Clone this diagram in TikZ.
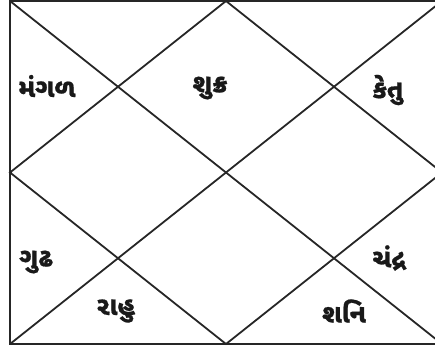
\documentclass[tikz,border=0pt]{standalone}
\usepackage{fontspec}
\newfontfamily\guj[Script=Gujarati,FakeBold=0.8]{Noto Sans Gujarati UI}
\begin{document}
\begin{tikzpicture}[x=1pt,y=-1pt,
  frame/.style={line width=2.6pt,draw=black!85},
  chartline/.style={line width=1.8pt,draw=black!85},
  planet/.style={font=\guj\bfseries\fontsize{26}{28}\selectfont,inner sep=0pt,text=black!90}]
\useasboundingbox (0,0) rectangle (435,349);
\clip (0,0) rectangle (435,349);
\coordinate (tl) at (10,1);
\coordinate (tr) at (442,1);
\coordinate (bl) at (10,344);
\coordinate (br) at (442,344);
\coordinate (tm) at (226,1);
\coordinate (bm) at (226,344);
\coordinate (lm) at (10,172.5);
\coordinate (rm) at (442,172.5);
\draw[chartline] (tl) -- (br);
\draw[chartline] (tr) -- (bl);
\draw[chartline] (tm) -- (lm) -- (bm) -- (rm) -- cycle;
\draw[frame] (tl) rectangle (br);
\node[planet] (mangal) at (47,86) {મંગળ};
\node[planet] (shukra) at (210,88) {શુક્ર};
\node[planet] (ketu) at (388,90) {કેતુ};
\node[planet] (guru) at (36,262) {ગુઢ};
\node[planet] (chandra) at (389,258) {ચંદ્ર};
\node[planet] (rahu) at (116,311) {રાહુ};
\node[planet] (shani) at (344,311) {શનિ};
\end{tikzpicture}
\end{document}
